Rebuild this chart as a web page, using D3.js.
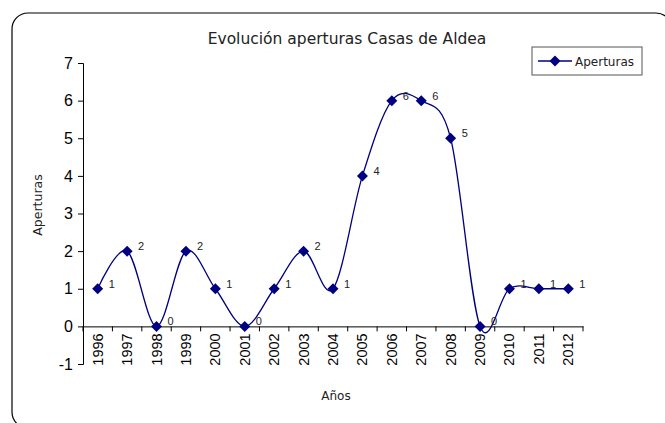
<!DOCTYPE html>
<html><head><meta charset="utf-8">
<script src="https://cdn.jsdelivr.net/npm/d3@7"></script>
<style>body{margin:0;background:#fff}svg{display:block}</style>
</head><body>
<svg id="c" width="665" height="423"></svg>
<script>
const years = ["1996","1997","1998","1999","2000","2001","2002","2003","2004","2005","2006","2007","2008","2009","2010","2011","2012"];
const aperturas = [1,2,0,2,1,0,1,2,1,4,6,6,5,0,1,1,1];
const yTicks = [-1,0,1,2,3,4,5,6,7];
const title = "Evolución aperturas Casas de Aldea";
const seriesName = "Aperturas";
const xTitle = "Años";
const yTitle = "Aperturas";

const svg = d3.select("#c");
const color = "#000080";
const numFont = "'Liberation Sans', Arial, sans-serif";
const txtFont = "'DejaVu Sans', sans-serif";

svg.append("rect").attr("x",12).attr("y",13).attr("width",660).attr("height",415)
  .attr("rx",16).attr("fill","#fff").attr("stroke","#000").attr("stroke-width",1.2);

const x = d3.scaleBand().domain(years).range([83,583]);
const y = d3.scaleLinear().domain([-1,7]).range([364,63]);

// y axis
const ya = svg.append("g").attr("transform","translate(83,0)")
  .call(d3.axisLeft(y).tickValues(yTicks).tickSize(5).tickPadding(5).tickFormat(d=>String(d)));
ya.select(".domain").attr("stroke","#000");
ya.selectAll("text").attr("font-family",numFont).attr("font-size",16).attr("fill","#000");

// x axis at y=0
const xa = svg.append("g").attr("transform",`translate(0,${y(0)})`)
  .call(d3.axisBottom(x).tickSize(0).tickFormat(""));
xa.select(".domain").attr("stroke","#000");
const bounds = years.map(d=>x(d)).concat([x.range()[1]]);
svg.append("g").selectAll("line").data(bounds).join("line")
  .attr("x1",d=>d).attr("x2",d=>d).attr("y1",y(0)).attr("y2",y(0)+5).attr("stroke","#000");

svg.append("g").selectAll("text").data(years).join("text")
  .attr("transform",d=>`translate(${x(d)+x.bandwidth()/2+5},${y(0)+7}) rotate(-90)`)
  .attr("text-anchor","end").attr("font-family",numFont).attr("font-size",14.5).text(d=>d);

// line
const cx = d=>x(d)+x.bandwidth()/2;
const line = d3.line().x((d,i)=>cx(years[i])).y(d=>y(d)).curve(d3.curveCardinal.tension(0));
svg.append("path").attr("d",line(aperturas)).attr("fill","none").attr("stroke",color).attr("stroke-width",1.3);

const dia = "M0,-5.5L5.5,0L0,5.5L-5.5,0Z";
svg.append("g").selectAll("path").data(aperturas).join("path")
  .attr("transform",(d,i)=>`translate(${cx(years[i])},${y(d)})`)
  .attr("d",dia).attr("fill",color);

svg.append("g").selectAll("text").data(aperturas).join("text")
  .attr("x",(d,i)=>cx(years[i])+11).attr("y",d=>y(d)-1)
  .attr("font-family",numFont).attr("font-size",11).attr("fill","#222").text(d=>d);

// titles
svg.append("text").attr("x",347).attr("y",44).attr("text-anchor","middle")
  .attr("font-family",txtFont).attr("font-size",15.5).attr("fill","#222").text(title);
svg.append("text").attr("x",336).attr("y",400).attr("text-anchor","middle")
  .attr("font-family",txtFont).attr("font-size",12).attr("fill","#222").text(xTitle);
svg.append("text").attr("transform","translate(42,205) rotate(-90)").attr("text-anchor","middle")
  .attr("font-family",txtFont).attr("font-size",12.5).attr("fill","#222").text(yTitle);

// legend
const lg = svg.append("g");
lg.append("rect").attr("x",532).attr("y",47).attr("width",110).attr("height",28)
  .attr("fill","#fff").attr("stroke","#555").attr("stroke-width",1);
lg.append("line").attr("x1",538).attr("x2",572).attr("y1",61).attr("y2",61).attr("stroke",color).attr("stroke-width",1.3);
lg.append("path").attr("transform","translate(555,61)").attr("d",dia).attr("fill",color);
lg.append("text").attr("x",575).attr("y",65.5).attr("font-family",txtFont).attr("font-size",12).attr("fill","#222").text(seriesName);
</script>
</body></html>
